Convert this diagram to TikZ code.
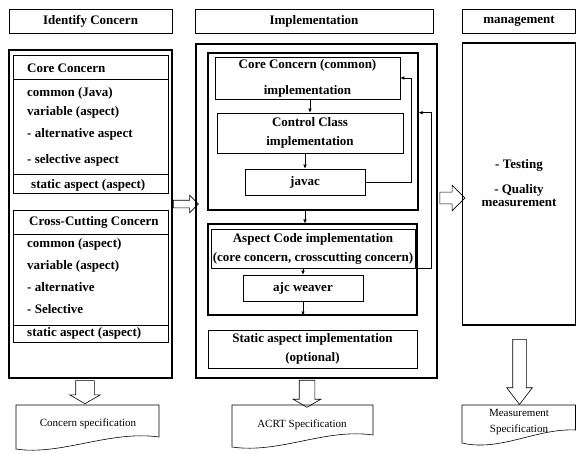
\documentclass[tikz,border=0pt]{standalone}
\usepackage{fontspec}
\setmainfont{Liberation Serif}
\usepackage{tikz}
\usetikzlibrary{arrows.meta}
\usetikzlibrary{shapes}
\usetikzlibrary{calc}

\tikzset{
  boxfont/.style={font=\fontsize{13}{19}\selectfont\bfseries},
  docfont/.style={font=\fontsize{11}{16}\selectfont},
  fb/.style={draw=black,line width=0.6pt,-{Latex[length=4pt,width=3.5pt]}},
}

\begin{document}
\begin{tikzpicture}[x=1pt,y=-1pt]
  \useasboundingbox (0,0) rectangle (577,454);

  % column headers
  \begin{scope}[every node/.style={draw,line width=0.6pt,boxfont,inner sep=0pt,minimum height=24pt}]
    \node[minimum width=163pt] (hid) at (90.5,21) {Identify Concern};
    \node[minimum width=238pt] (himp) at (314,21) {Implementation};
    \node[minimum width=113pt] (hmg) at (519,21) {management};
  \end{scope}

  % big boxes
  \begin{scope}[every node/.style={draw,line width=1.1pt,inner sep=0pt}]
    \node[minimum width=163pt,minimum height=328pt] (idbox) at (90.5,214) {};
    \node[minimum width=241pt,minimum height=334pt] (impbox) at (316.5,211) {};
    \node[minimum width=113pt,minimum height=282pt] (mgbox) at (519,184) {};
    \node[minimum width=210pt,minimum height=157pt] (grp1) at (313,131.5) {};
    \node[minimum width=209pt,minimum height=91pt] (grp2) at (312.5,269.5) {};
  \end{scope}

  % concern lists
  \begin{scope}[every node/.style={draw,line width=0.8pt,inner sep=0pt,minimum width=155pt}]
    \node[minimum height=138pt] (core) at (90.5,124) {};
    \node[minimum height=132pt] (cross) at (90.5,276) {};
  \end{scope}
  \draw[line width=0.6pt] (13,79) -- (168,79);
  \draw[line width=0.6pt] (13,174) -- (168,174);
  \draw[line width=0.6pt] (13,234) -- (168,234);
  \draw[line width=1pt] (13,325) -- (168,325);

  \begin{scope}[every node/.style={anchor=west,boxfont,inner sep=0pt}]
    \node (c0) at (27,68) {Core Concern};
    \node (c1) at (27,93) {common (Java)};
    \node (c2) at (27,112) {variable (aspect)};
    \node (c3) at (27,134) {- alternative aspect};
    \node (c4) at (27,160) {- selective aspect};
    \node (c5) at (31,185) {static aspect (aspect)};
    \node (x0) at (29,222) {Cross-Cutting Concern};
    \node (x1) at (27,244) {common (aspect)};
    \node (x2) at (27,266) {variable (aspect)};
    \node (x3) at (27,287) {- alternative};
    \node (x4) at (27,309) {- Selective};
    \node (x5) at (27,333) {static aspect (aspect)};
  \end{scope}

  % implementation steps
  \begin{scope}[every node/.style={draw,line width=0.6pt,boxfont,align=center,inner sep=0pt}]
    \node[minimum width=185pt,minimum height=42pt,font=\fontsize{13}{26}\selectfont\bfseries] (ccimp) at (307.5,78) {Core Concern (common)\\implementation};
    \node[minimum width=186pt,minimum height=40pt] (ctrl) at (310,133) {Control Class\\implementation};
    \node[minimum width=120pt,minimum height=26pt] (javac) at (305,182) {javac};
    \node[minimum width=204pt,minimum height=39pt] (asp) at (313,248.5) {Aspect Code implementation\\(core concern, crosscutting concern)};
    \node[minimum width=120pt,minimum height=26pt] (ajc) at (303,288) {ajc weaver};
    \node[minimum width=209pt,minimum height=38pt] (stat) at (312.5,349) {Static aspect implementation\\(optional)};
  \end{scope}

  \begin{scope}[every edge/.style={fb}]
    \path (ccimp.south -| ctrl) edge (ctrl.north);
    \path (ctrl.south -| javac) edge (javac.north);
    \path (grp1.south -| javac) edge (grp2.north -| javac);
    \path (asp.south -| ajc) edge (ajc.north);
    \path (ajc.south) edge (grp2.south -| ajc);
  \end{scope}
  \draw[fb] (javac.east) -- ++(46,0) |- (ccimp.east);
  \draw[fb] (grp2.east |- asp.south) -- ++(14,0) |- (grp1.east |- ctrl.north);

  % management
  \begin{scope}[every node/.style={boxfont,align=center,inner sep=0pt}]
    \node (test) at (519,165) {- Testing};
    \node[font=\fontsize{13}{13}\selectfont\bfseries] (qual) at (519,196) {- Quality\\measurement};
  \end{scope}

  % hollow arrows
  \begin{scope}[every node/.style={single arrow,draw,line width=0.6pt,inner xsep=0pt}]
    \node[inner ysep=3.5pt,single arrow head extend=5pt,minimum height=25pt] (a1) at (184,204) {};
    \node[inner ysep=5.5pt,single arrow head extend=7pt,minimum height=25pt] (a2) at (449.5,198) {};
    \node[rotate=-90,inner ysep=9pt,single arrow head extend=6pt,single arrow tip angle=120,minimum height=23pt] (a3) at (85,389.5) {};
    \node[rotate=-90,inner ysep=7.5pt,single arrow head extend=6pt,single arrow tip angle=120,minimum height=27pt] (a4) at (307,391.5) {};
    \node[rotate=-90,inner ysep=6.5pt,single arrow head extend=6pt,single arrow tip angle=75,minimum height=65pt] (a5) at (519.5,367.5) {};
  \end{scope}

  % specifications
  \draw[line width=0.6pt] (16,405) -- (159,405) -- (159,437) .. controls (110,430) and (60,456) .. (16,449) -- cycle;
  \draw[line width=0.6pt] (232,405) -- (373,405) -- (373,435) .. controls (325,428) and (280,454) .. (232,447) -- cycle;
  \draw[line width=0.6pt] (462,405) -- (575.5,405) -- (575.5,430) .. controls (537,428) and (500,452) .. (462,443) -- cycle;
  \begin{scope}[every node/.style={docfont,align=center,inner sep=0pt}]
    \node (cspec) at (88,424) {Concern specification};
    \node (aspec) at (302,425) {ACRT Specification};
    \node (mspec) at (519,422) {Measurement\\Specification};
  \end{scope}
\end{tikzpicture}
\end{document}
